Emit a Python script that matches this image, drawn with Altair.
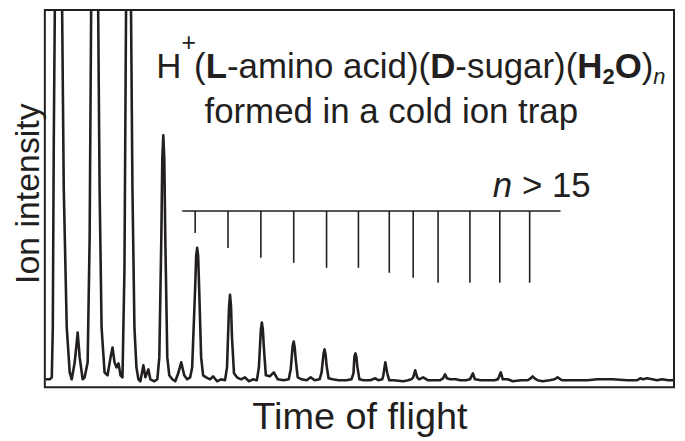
import altair as alt
import pandas as pd

# ---- spectrum trace (time of flight, ion intensity) ----
time_of_flight = [1, 5, 7, 8, 9, 11, 14, 17, 19, 22, 25, 27,
                  30, 33, 35, 38, 40, 43,
                  45, 47, 50, 53, 55, 57, 60, 63,
                  66, 68, 70, 72, 74, 76, 78,
                  80, 82, 84, 86, 88, 90, 92, 94,
                  96, 99, 101, 104, 106, 110, 113,
                  115, 117, 118, 119, 120, 121, 123, 125,
                  128, 131, 134, 137, 140, 143, 146,
                  148, 151, 152, 153, 154, 155, 157, 159,
                  162, 166, 169, 173, 177, 181,
                  183, 185, 186, 187, 188, 190, 193,
                  197, 201, 205, 209, 213,
                  215, 217, 218, 219, 220, 222, 226, 230, 234, 240, 245,
                  247, 249, 250, 251, 252, 254,
                  258, 263, 267, 271, 276,
                  278, 280, 281, 282, 283, 285,
                  289, 295, 303, 308,
                  310, 311, 312, 313, 314, 316,
                  320, 327, 332, 335, 339,
                  340, 342, 344, 346,
                  350, 360, 365, 368,
                  370, 372, 374, 376, 380, 385, 392, 397,
                  400, 402, 404, 407, 413, 417, 423, 427,
                  428, 430, 432, 438, 446, 452, 455,
                  456, 458, 460, 465, 470, 478, 485,
                  488, 490, 492, 495, 500, 507, 512, 515, 518, 520, 530, 545,
                  555, 570, 585, 595, 598, 601, 605, 610, 615, 620, 626, 631]
ion_intensity = [8, 8, 10, 60, 250, 500, 800, 420, 200, 60, 15, 8,
                 25, 55, 30, 8, 10, 25,
                 150, 450, 800, 450, 200, 60, 15, 12,
                 30, 40, 25, 20, 24, 12, 10,
                 120, 450, 900, 450, 200, 60, 20, 8,
                 6, 22, 10, 18, 8, 6, 8,
                 30, 150, 230, 253, 230, 150, 30, 12,
                 8, 6, 14, 25, 12, 8, 10,
                 20, 100, 132, 140, 132, 100, 30, 12,
                 10, 8, 11, 6, 8, 7,
                 20, 80, 93, 82, 50, 14, 10,
                 8, 10, 6, 8, 7,
                 20, 58, 65, 58, 40, 12, 11, 15, 8, 7, 8,
                 18, 42, 46, 40, 28, 10,
                 8, 7, 10, 7, 8,
                 15, 34, 38, 33, 22, 9,
                 8, 7, 7, 8,
                 14, 31, 34, 30, 20, 8,
                 7, 7, 9, 7, 8,
                 12, 25, 14, 7,
                 7, 6, 7, 8,
                 10, 17, 10, 8, 10, 7, 7, 7,
                 9, 13, 9, 8, 8, 7, 7, 8,
                 10, 14, 8, 7, 7, 7, 8,
                 10, 15, 8, 8, 6, 7, 7,
                 9, 11, 9, 7, 6, 7, 8, 10, 8, 7, 7, 7,
                 8, 8, 7, 7, 9, 8, 9, 8, 7, 8, 7, 7]

# ---- cluster-size comb (n = 1 ... 12 and beyond) ----
comb_positions = [151, 184, 217, 250, 283, 315, 346, 370, 395, 427, 457, 487]
comb_tick_ends = [155, 140, 130, 125, 120, 120, 115, 110, 105, 105, 105, 105]
comb_bar_start = 138
comb_bar_end = 518
comb_bar_level = 177

X_MAX = 632
Y_MAX = 379
W, H = 632, 379
INK = "#231f20"
FONT = "Liberation Sans"

trace = pd.DataFrame({"t": time_of_flight, "I": ion_intensity})
comb = pd.DataFrame({"t": comb_positions, "end": comb_tick_ends,
                     "top": [comb_bar_level] * len(comb_positions)})
bar = pd.DataFrame({"t0": [comb_bar_start], "t1": [comb_bar_end], "lvl": [comb_bar_level]})

xs = alt.Scale(domain=[0, X_MAX], nice=False, zero=False)
ys = alt.Scale(domain=[0, Y_MAX], nice=False, zero=False)

x_axis = alt.Axis(title="Time of flight", labels=False, ticks=False, domain=False, grid=False,
                  titleFont=FONT, titleFontSize=38, titleFontWeight="normal", titleColor=INK,
                  titleX=316, titleY=41, titleBaseline="alphabetic", titleAlign="center")
y_axis = alt.Axis(title="Ion intensity", labels=False, ticks=False, domain=False, grid=False,
                  titleFont=FONT, titleFontSize=34, titleFontWeight="normal", titleColor=INK,
                  titleX=-6, titleY=184, titleAngle=270, titleBaseline="alphabetic",
                  titleAlign="center")

line = alt.Chart(trace).mark_line(color=INK, strokeWidth=2.6, clip=True,
                                  strokeJoin="round").encode(
    x=alt.X("t:Q", scale=xs, axis=x_axis),
    y=alt.Y("I:Q", scale=ys, axis=y_axis),
    order="t:Q",
)

bar_rule = alt.Chart(bar).mark_rule(color=INK, strokeWidth=1.6).encode(
    x=alt.X("t0:Q", scale=xs), x2="t1:Q", y=alt.Y("lvl:Q", scale=ys))
tick_rules = alt.Chart(comb).mark_rule(color=INK, strokeWidth=1.6).encode(
    x=alt.X("t:Q", scale=xs), y=alt.Y("top:Q", scale=ys), y2="end:Q")

# ---- rich-text annotation built from segments (Arial/Liberation advance widths) ----
REG = {"H": 722, "(": 333, ")": 333, "-": 333, "a": 556, "m": 833, "i": 222, "n": 556,
       "o": 556, " ": 278, "c": 500, "d": 556, "s": 500, "u": 556, "g": 556, "r": 333,
       "+": 584, ">": 584, "1": 556, "5": 556}
BOLD = {"L": 611, "D": 722, "H": 722, "O": 778, "2": 556}


def seg_width(text, weight, size):
    tbl = BOLD if weight == "bold" else REG
    return sum(tbl.get(ch, 556) for ch in text) / 1000.0 * size


S = 35
SUB = 22
line1 = [("H", "normal", "normal", S, 0),
         ("+", "normal", "normal", 25, -27),
         ("(", "normal", "normal", S, 0),
         ("L", "bold", "normal", S, 0),
         ("-amino acid)(", "normal", "normal", S, 0),
         ("D", "bold", "normal", S, 0),
         ("-sugar)(", "normal", "normal", S, 0),
         ("H", "bold", "normal", S, 0),
         ("2", "bold", "normal", SUB, 6),
         ("O", "bold", "normal", S, 0),
         (")", "normal", "normal", S, 0),
         ("n", "normal", "italic", SUB, 6)]

texts = []
x = 112
base1 = 68
for txt, wt, st, sz, dy in line1:
    texts.append(alt.Chart(pd.DataFrame({"s": [txt]})).mark_text(
        font=FONT, fontSize=sz, fontWeight=wt, fontStyle=st, color=INK,
        align="left", baseline="alphabetic").encode(
        x=alt.value(x), y=alt.value(base1 + dy), text="s:N"))
    x += seg_width(txt, wt, sz) - (2 if txt == "+" else 0)

texts.append(alt.Chart(pd.DataFrame({"s": ["formed in a cold ion trap"]})).mark_text(
    font=FONT, fontSize=35, color=INK, align="center", baseline="alphabetic").encode(
    x=alt.value(348), y=alt.value(114), text="s:N"))

nx = 450
texts.append(alt.Chart(pd.DataFrame({"s": ["n"]})).mark_text(
    font=FONT, fontSize=S, fontStyle="italic", color=INK, align="left",
    baseline="alphabetic").encode(x=alt.value(nx), y=alt.value(188), text="s:N"))
texts.append(alt.Chart(pd.DataFrame({"s": ["> 15"]})).mark_text(
    font=FONT, fontSize=S, color=INK, align="left", baseline="alphabetic").encode(
    x=alt.value(nx + seg_width("n ", "normal", S)), y=alt.value(188), text="s:N"))

chart = alt.layer(line, bar_rule, tick_rules, *texts).properties(
    width=W, height=H,
    background="white",
    autosize=alt.AutoSizeParams(type="none"),
    padding={"left": 37, "top": 1, "right": 3, "bottom": 49},
).configure_view(stroke=INK, strokeWidth=2)

chart.save("out.html", embed_options={"renderer": "svg", "actions": False})
